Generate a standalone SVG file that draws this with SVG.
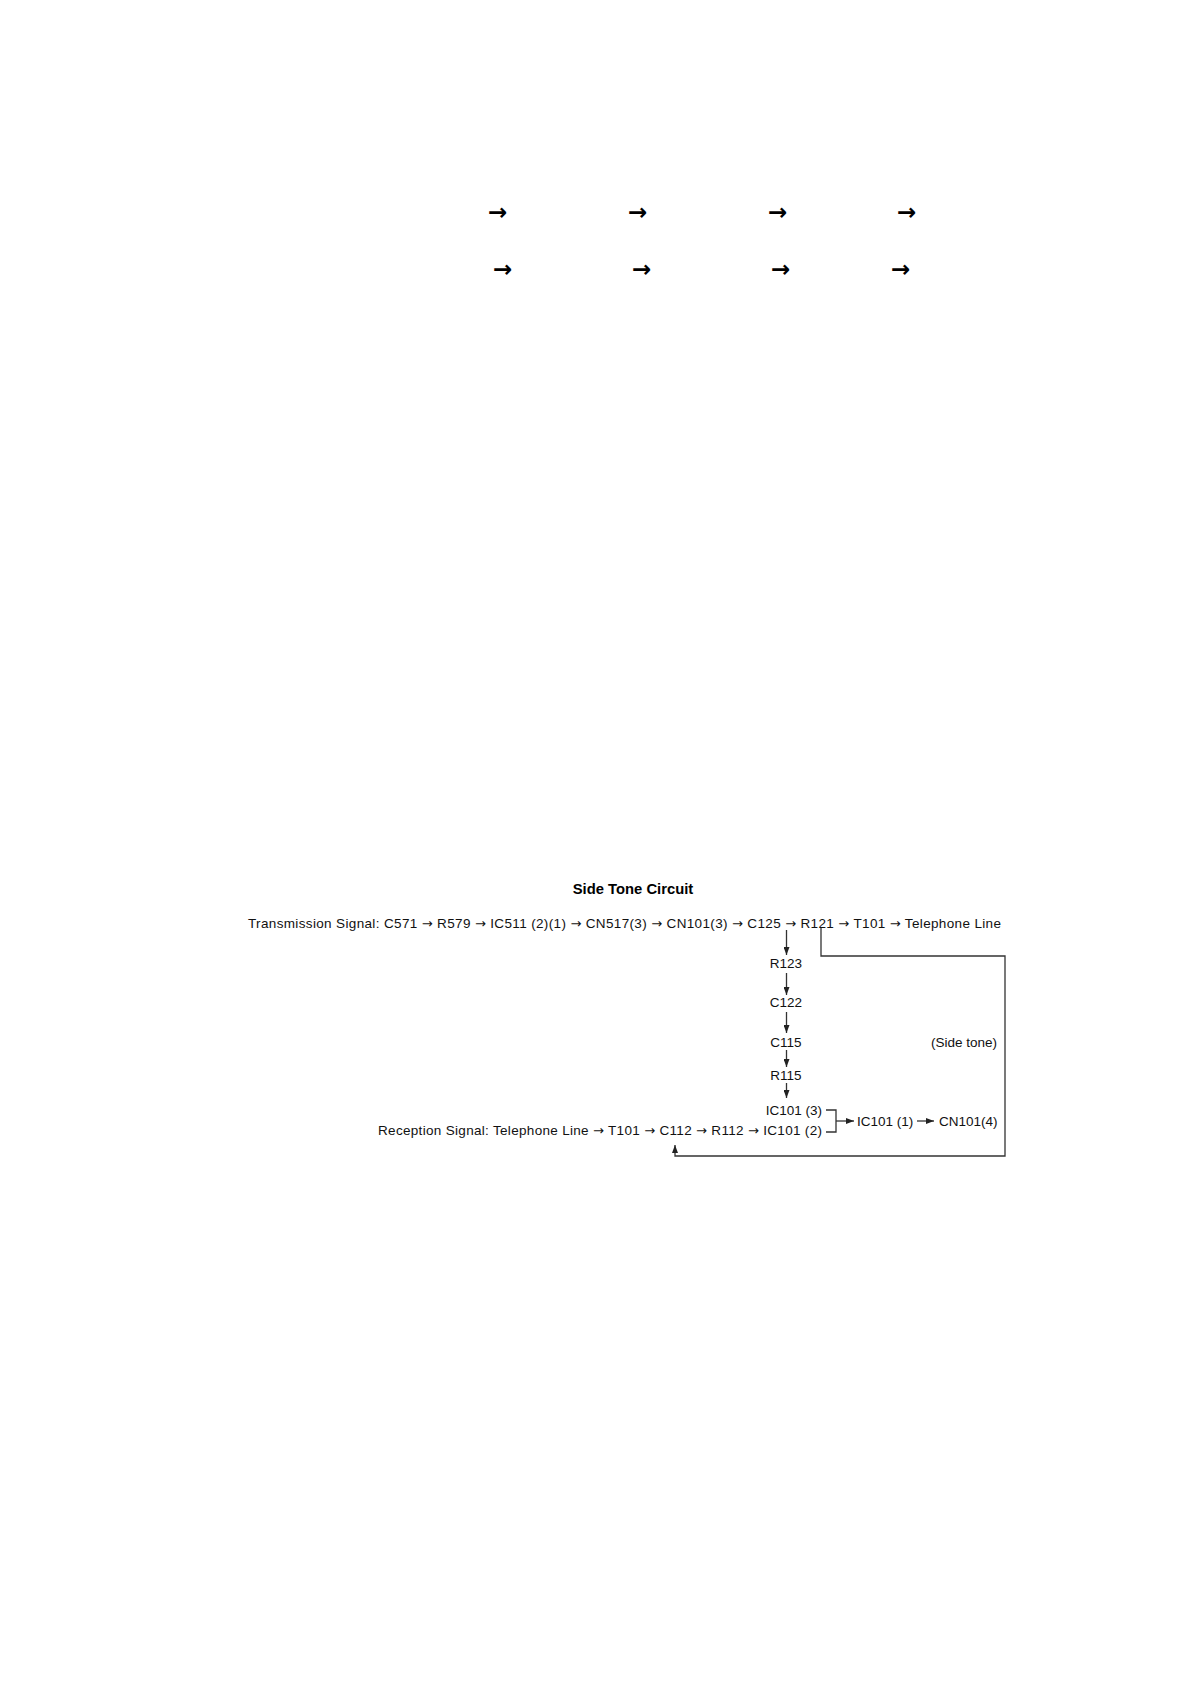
<svg xmlns="http://www.w3.org/2000/svg" width="1190" height="1682" viewBox="0 0 1190 1682">
<style>
.t{font-family:"Liberation Sans",Arial,sans-serif;font-size:13.5px;fill:#111}
.a{font-family:"DejaVu Sans",sans-serif;font-size:13px}
.h{font-family:"Liberation Sans",Arial,sans-serif;font-size:14.8px;font-weight:bold;fill:#000}
.big{font-family:"DejaVu Sans",sans-serif;font-size:23px;font-weight:bold;fill:#000}
.ln{stroke:#333;stroke-width:1.3;fill:none}
</style>
<defs>
<marker id="ah" markerUnits="userSpaceOnUse" markerWidth="8" markerHeight="6" refX="8" refY="3" orient="auto">
<path d="M0,0 L8,3 L0,6 z" fill="#222"/>
</marker>
</defs>
<rect width="1190" height="1682" fill="#fff"/>
<g id="top-arrows">
<text class="big" x="488" y="220">→</text>
<text class="big" x="628" y="220">→</text>
<text class="big" x="768" y="220">→</text>
<text class="big" x="897" y="220">→</text>
<text class="big" x="493" y="277">→</text>
<text class="big" x="632" y="277">→</text>
<text class="big" x="771" y="277">→</text>
<text class="big" x="891" y="277">→</text>
</g>
<g id="title"><text class="h" x="633" y="894" text-anchor="middle">Side Tone Circuit</text></g>
<g id="transmission"><text class="t" x="248" y="928" textLength="753" lengthAdjust="spacing">Transmission Signal: C571 <tspan class="a">→</tspan> R579 <tspan class="a">→</tspan> IC511 (2)(1) <tspan class="a">→</tspan> CN517(3) <tspan class="a">→</tspan> CN101(3) <tspan class="a">→</tspan> C125 <tspan class="a">→</tspan> R121 <tspan class="a">→</tspan> T101 <tspan class="a">→</tspan> Telephone Line</text></g>
<g id="r123"><text class="t" x="786" y="968" text-anchor="middle">R123</text></g>
<g id="c122"><text class="t" x="786" y="1007" text-anchor="middle">C122</text></g>
<g id="c115"><text class="t" x="786" y="1047" text-anchor="middle">C115</text></g>
<g id="r115"><text class="t" x="786" y="1080" text-anchor="middle">R115</text></g>
<g id="ic101-3"><text class="t" x="822" y="1115" text-anchor="end">IC101 (3)</text></g>
<g id="reception"><text class="t" x="378" y="1135" textLength="444" lengthAdjust="spacing">Reception Signal: Telephone Line <tspan class="a">→</tspan> T101 <tspan class="a">→</tspan> C112 <tspan class="a">→</tspan> R112 <tspan class="a">→</tspan> IC101 (2)</text></g>
<g id="ic101-1"><text class="t" x="857" y="1126">IC101 (1)</text></g>
<g id="cn101-4"><text class="t" x="939" y="1126">CN101(4)</text></g>
<g id="side-tone"><text class="t" x="997" y="1047" text-anchor="end">(Side tone)</text></g>
<g id="connectors">
<line class="ln" x1="786.5" y1="930" x2="786.5" y2="955" marker-end="url(#ah)"/>
<line class="ln" x1="786.5" y1="973" x2="786.5" y2="995" marker-end="url(#ah)"/>
<line class="ln" x1="786.5" y1="1012" x2="786.5" y2="1033" marker-end="url(#ah)"/>
<line class="ln" x1="786.5" y1="1050" x2="786.5" y2="1067" marker-end="url(#ah)"/>
<line class="ln" x1="786.5" y1="1083" x2="786.5" y2="1098" marker-end="url(#ah)"/>
<polyline class="ln" points="821,928 821,956 1005,956 1005,1156 675,1156 675,1145" marker-end="url(#ah)"/>
<polyline class="ln" points="826,1110 836,1110 836,1132 826,1132"/>
<line class="ln" x1="836" y1="1121" x2="854" y2="1121" marker-end="url(#ah)"/>
<line class="ln" x1="917" y1="1121" x2="934" y2="1121" marker-end="url(#ah)"/>
</g>
</svg>
